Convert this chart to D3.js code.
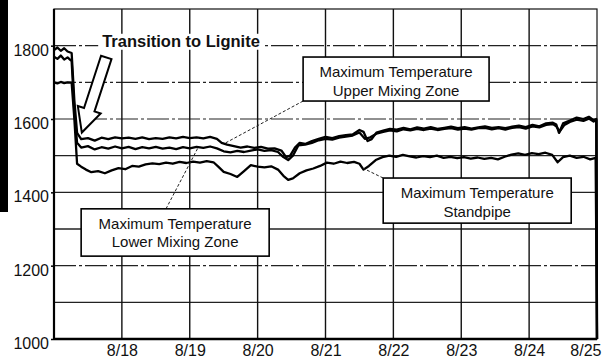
<!DOCTYPE html>
<html>
<head>
<meta charset="utf-8">
<script src="https://cdn.jsdelivr.net/npm/d3@7"></script>
<style>
body { margin: 0; background: #fff; }
svg text { font-family: "Liberation Sans", Arial, Helvetica, sans-serif; fill: #111; }
</style>
</head>
<body>
<svg id="chart" width="606" height="362"></svg>
<script>
// axis values
var yTicks = [1000, 1200, 1400, 1600, 1800];
var yGrid = [1100, 1200, 1300, 1400, 1500, 1600, 1700, 1800];
var dayTicks = [18, 19, 20, 21, 22, 23, 24, 25];
var dayLabels = ["8/18", "8/19", "8/20", "8/21", "8/22", "8/23", "8/24", "8/25"];

// series: [day of August, temperature]
var upperMixing = [[17.00,1788],[17.05,1795],[17.10,1786],[17.15,1793],[17.20,1784],[17.26,1780],[17.30,1650],[17.34,1562],
  [17.40,1545],[17.50,1548],[17.60,1541],[17.70,1549],[17.80,1545],[17.90,1550],[18.00,1547],[18.10,1549],[18.20,1546],
  [18.30,1550],[18.40,1545],[18.50,1548],[18.60,1546],[18.70,1550],[18.80,1547],[18.90,1551],[19.00,1548],[19.10,1550],
  [19.20,1547],[19.30,1551],[19.40,1546],[19.47,1535],[19.55,1530],[19.65,1526],[19.75,1522],[19.85,1525],[19.95,1521],
  [20.05,1524],[20.15,1519],[20.25,1520],[20.35,1514],[20.42,1496],[20.48,1500],[20.55,1522],[20.62,1535],[20.70,1532],
  [20.80,1540],[20.90,1546],[21.00,1551],[21.10,1548],[21.20,1553],[21.30,1556],[21.40,1558],[21.50,1570],[21.56,1565],
  [21.62,1540],[21.68,1545],[21.75,1563],[21.85,1568],[21.95,1573],[22.05,1571],[22.15,1576],[22.25,1572],[22.35,1577],
  [22.45,1574],[22.55,1578],[22.65,1573],[22.75,1576],[22.85,1579],[22.95,1575],[23.05,1578],[23.15,1574],[23.25,1577],
  [23.35,1580],[23.45,1576],[23.55,1578],[23.65,1575],[23.75,1579],[23.85,1582],[23.95,1578],[24.05,1584],[24.15,1580],
  [24.25,1588],[24.35,1590],[24.40,1585],[24.44,1562],[24.50,1588],[24.60,1596],[24.70,1604],[24.80,1600],[24.88,1606],
  [24.95,1597],[24.99,1600],[25.00,1000]];

var lowerMixing = [[17.00,1770],[17.05,1764],[17.10,1773],[17.15,1762],[17.20,1768],[17.26,1758],[17.30,1620],[17.34,1535],
  [17.40,1522],[17.50,1526],[17.60,1517],[17.70,1523],[17.80,1519],[17.90,1525],[18.00,1520],[18.10,1524],[18.20,1518],
  [18.30,1523],[18.40,1520],[18.50,1524],[18.60,1519],[18.70,1522],[18.80,1518],[18.90,1523],[19.00,1520],[19.10,1524],
  [19.20,1521],[19.30,1525],[19.40,1520],[19.50,1512],[19.60,1509],[19.70,1513],[19.80,1510],[19.90,1514],[20.00,1517],
  [20.10,1513],[20.20,1515],[20.30,1510],[20.38,1496],[20.45,1488],[20.52,1500],[20.60,1528],[20.70,1530],[20.80,1535],
  [20.90,1542],[21.00,1546],[21.10,1544],[21.20,1549],[21.30,1552],[21.40,1555],[21.50,1563],[21.58,1546],[21.66,1550],
  [21.75,1560],[21.85,1565],[21.95,1569],[22.05,1566],[22.15,1572],[22.25,1569],[22.35,1573],[22.45,1570],[22.55,1574],
  [22.65,1570],[22.75,1573],[22.85,1575],[22.95,1571],[23.05,1574],[23.15,1571],[23.25,1575],[23.35,1576],[23.45,1572],
  [23.55,1575],[23.65,1571],[23.75,1576],[23.85,1578],[23.95,1574],[24.05,1580],[24.15,1577],[24.25,1584],[24.35,1586],
  [24.40,1580],[24.45,1566],[24.52,1584],[24.60,1592],[24.70,1598],[24.80,1595],[24.88,1601],[24.95,1593],[24.99,1597],
  [25.00,1000]];

var standpipe = [[17.00,1700],[17.05,1697],[17.10,1701],[17.15,1698],[17.20,1700],[17.26,1699],[17.30,1600],[17.34,1478],
  [17.40,1470],[17.47,1462],[17.55,1455],[17.65,1458],[17.75,1452],[17.85,1460],[17.95,1466],[18.05,1463],[18.15,1472],
  [18.25,1470],[18.35,1476],[18.45,1479],[18.55,1477],[18.65,1481],[18.75,1478],[18.85,1483],[18.95,1480],[19.05,1484],
  [19.15,1481],[19.25,1485],[19.35,1482],[19.42,1470],[19.50,1456],[19.60,1450],[19.70,1442],[19.80,1458],[19.90,1474],
  [20.00,1470],[20.10,1468],[20.20,1471],[20.30,1462],[20.38,1445],[20.45,1434],[20.52,1438],[20.62,1452],[20.72,1460],
  [20.82,1465],[20.92,1472],[21.02,1481],[21.12,1478],[21.22,1484],[21.32,1480],[21.42,1483],[21.50,1478],[21.56,1462],
  [21.64,1472],[21.74,1488],[21.84,1496],[21.94,1500],[22.04,1497],[22.14,1502],[22.24,1498],[22.34,1495],[22.44,1499],
  [22.54,1496],[22.64,1500],[22.74,1494],[22.84,1497],[22.94,1493],[23.04,1496],[23.14,1492],[23.24,1495],[23.34,1491],
  [23.44,1494],[23.54,1490],[23.64,1497],[23.74,1503],[23.84,1506],[23.94,1502],[24.04,1507],[24.14,1504],[24.24,1508],
  [24.34,1502],[24.42,1482],[24.50,1496],[24.60,1500],[24.70,1494],[24.80,1497],[24.90,1490],[24.98,1494],[25.00,1000]];

var svg = d3.select("#chart");

var x = d3.scaleLinear().domain([17, 25]).range([54, 597]);
var y = d3.scaleLinear().domain([1000, 1900]).range([339, 9]);

// scanned black strip on the left edge
svg.append("rect").attr("x", 0).attr("y", 0).attr("width", 8).attr("height", 212).style("fill", "#000");

// grid
svg.append("g").selectAll("line").data(yGrid).enter().append("line")
    .attr("x1", x(17)).attr("x2", x(25))
    .attr("y1", d => y(d)).attr("y2", d => y(d))
    .style("stroke", "#222").style("stroke-width", d => (d % 200 == 0 ? 1.2 : 1.4))
    .style("stroke-dasharray", d => (d >= 1600 || d == 1200 ? "22,3,3,3" : null));

svg.append("g").selectAll("line").data(dayTicks.slice(0, -1)).enter().append("line")
    .attr("x1", d => x(d)).attr("x2", d => x(d))
    .attr("y1", y(1900)).attr("y2", y(1000))
    .style("stroke", "#111").style("stroke-width", 1.4);

// frame
svg.append("rect").attr("x", x(17)).attr("y", y(1900))
    .attr("width", x(25) - x(17)).attr("height", y(1000) - y(1900))
    .style("fill", "none").style("stroke", "#111").style("stroke-width", 1.2);
svg.append("line").attr("x1", x(17)).attr("x2", x(17)).attr("y1", y(1900)).attr("y2", y(1000))
    .style("stroke", "#000").style("stroke-width", 2.2);
svg.append("line").attr("x1", x(17)).attr("x2", x(25)).attr("y1", y(1000)).attr("y2", y(1000))
    .style("stroke", "#000").style("stroke-width", 2.5);

// axes
var yAxis = svg.append("g").attr("transform", `translate(${x(17)},0)`)
    .call(d3.axisLeft(y).tickValues(yTicks).tickSize(3).tickFormat(d3.format("d")));
yAxis.select(".domain").remove();
yAxis.selectAll("line").style("stroke", "#000").style("stroke-width", 1.5);
yAxis.selectAll("text").attr("x", -5).attr("dy", "0.6em").style("font-size", "16px").style("fill", "#111");

var xAxis = svg.append("g").attr("transform", `translate(0,${y(1000)})`)
    .call(d3.axisBottom(x).tickValues(dayTicks).tickSize(0).tickFormat((d, i) => dayLabels[i]));
xAxis.select(".domain").remove();
xAxis.selectAll("text").attr("y", 6).attr("dy", "0.71em").style("font-size", "16px").style("fill", "#111")
    .filter((d, i) => i == dayTicks.length - 1).attr("text-anchor", "end").attr("dx", 4);

// arrow for the fuel switch
function arrowPoints(tail, tip) {
    var dx = tip[0] - tail[0], dy = tip[1] - tail[1];
    var len = Math.sqrt(dx * dx + dy * dy);
    var ux = dx / len, uy = dy / len;
    var nx = -uy, ny = ux;
    var sw = 5.5, hw = 12, hl = 24;
    var neck = [tip[0] - ux * hl, tip[1] - uy * hl];
    var pts = [
        [tail[0] + nx * sw, tail[1] + ny * sw],
        [neck[0] + nx * sw, neck[1] + ny * sw],
        [neck[0] + nx * hw, neck[1] + ny * hw],
        tip,
        [neck[0] - nx * hw, neck[1] - ny * hw],
        [neck[0] - nx * sw, neck[1] - ny * sw],
        [tail[0] - nx * sw, tail[1] - ny * sw]
    ];
    return pts.map(p => p.join(",")).join(" ");
}
svg.append("polygon")
    .attr("points", arrowPoints([x(17.77), y(1768)], [x(17.41), y(1563)]))
    .style("fill", "#fff").style("stroke", "#000").style("stroke-width", 2).style("stroke-linejoin", "miter");

// series
var line = d3.line().x(d => x(d[0])).y(d => y(d[1]));
svg.append("g").selectAll("path").data([standpipe, lowerMixing, upperMixing]).enter().append("path")
    .attr("d", line)
    .style("fill", "none").style("stroke", "#000").style("stroke-width", 2.3).style("stroke-linejoin", "round");

// label for the arrow
var trans = svg.append("text").attr("x", x(17.71)).attr("y", y(1797))
    .style("font-size", "16.5px").style("font-weight", "bold").text("Transition to Lignite");
var tb = trans.node().getBBox();
svg.append("rect").attr("x", tb.x - 4).attr("y", tb.y + 2).attr("width", tb.width + 8).attr("height", tb.height - 2)
    .style("fill", "#fff");
trans.raise();

// callout boxes
var callouts = [
    { box: [20.67, 23.41, 1769, 1649], lines: ["Maximum Temperature", "Upper Mixing Zone"], from: [20.67, 1649], to: [19.52, 1534] },
    { box: [17.40, 20.17, 1355, 1226], lines: ["Maximum Temperature", "Lower Mixing Zone"], from: [18.65, 1355], to: [19.12, 1521] },
    { box: [21.85, 24.62, 1439, 1316], lines: ["Maximum Temperature", "Standpipe"], from: [21.85, 1439], to: [21.55, 1466] }
];

callouts.forEach(function (c) {
    svg.append("line")
        .attr("x1", x(c.from[0])).attr("y1", y(c.from[1]))
        .attr("x2", x(c.to[0])).attr("y2", y(c.to[1]))
        .style("stroke", "#222").style("stroke-width", 1).style("stroke-dasharray", "3,2");

    var bx = x(c.box[0]), by = y(c.box[2]);
    var bw = x(c.box[1]) - bx, bh = y(c.box[3]) - by;
    svg.append("rect").attr("x", bx).attr("y", by).attr("width", bw).attr("height", bh)
        .style("fill", "#fff").style("stroke", "#000").style("stroke-width", 1.6);

    c.lines.forEach(function (t, i) {
        svg.append("text").attr("x", bx + bw / 2).attr("y", by + 20 + i * 18.5)
            .attr("text-anchor", "middle").style("font-size", "15px").text(t);
    });
});
</script>
</body>
</html>
